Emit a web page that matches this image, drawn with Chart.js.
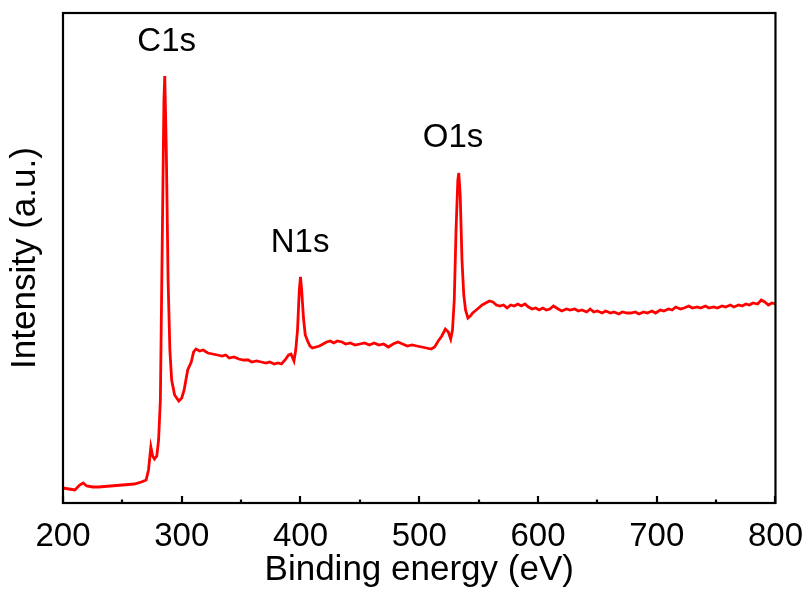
<!DOCTYPE html>
<html>
<head>
<meta charset="utf-8">
<script src="https://cdn.jsdelivr.net/npm/chart.js@4.4.1/dist/chart.umd.min.js"></script>
<style>
  html, body { margin: 0; padding: 0; background: #fff; }
  #wrap { width: 809px; height: 589px; }
</style>
</head>
<body>
<div id="wrap"><canvas id="xps"></canvas></div>
<script>
// XPS survey spectrum
const energy = [
  200, 205, 210, 214, 217, 220, 225, 230, 240, 250, 260, 266, 270, 272, 274, 275.5, 277, 279, 280.5, 282,
  283.5, 285, 285.7, 287, 288.5, 290, 291.5, 294, 297.5, 300, 302, 305, 308, 310, 312, 315, 318, 322, 326, 330,
  334, 337, 340, 344, 348, 352, 356, 359, 363, 367, 371, 374, 378, 381, 384, 387, 390, 392, 394.5, 396,
  397.5, 399, 400, 401, 402.5, 404, 406, 408, 410, 413, 416, 419, 422, 425, 428, 431, 435, 438, 442, 446,
  450, 454, 458, 462, 466, 470, 474, 478, 482, 486, 490, 494, 498, 502, 506, 510, 513, 516, 519, 522,
  524.5, 526.5, 528, 529.5, 531, 532.5, 533.3, 534.5, 536, 537.5, 539, 541, 543, 545, 547, 550, 553, 556, 559, 562,
  565, 568, 571, 574, 577, 580, 583, 586, 589, 592, 595, 598, 601, 604, 607, 610, 613, 617, 620, 624,
  627, 631, 634, 637, 641, 644, 647, 650, 654, 657, 661, 664, 668, 671, 675, 678, 682, 685, 689, 692,
  696, 699, 703, 706, 710, 713, 716, 720, 723, 727, 730, 734, 737, 741, 744, 748, 751, 755, 758, 762,
  765, 769, 772, 775, 778, 781, 785, 788, 791, 794, 797, 800
];
const intensity = [
  1.5, 1.4, 1.3, 1.8, 2.0, 1.7, 1.6, 1.6, 1.7, 1.8, 1.9, 2.1, 2.3, 3.3, 5.6, 4.7, 4.4, 4.7, 6.3, 10.3,
  25.3, 40.3, 42.7, 35.3, 22.3, 15.3, 12.3, 10.8, 10.2, 10.5, 11.3, 13.3, 14.1, 15.1, 15.4, 15.2, 15.3, 15.0, 14.9, 14.8,
  14.7, 14.8, 14.5, 14.6, 14.4, 14.3, 14.3, 14.1, 14.2, 14.1, 14.0, 14.1, 13.9, 14.0, 13.9, 14.3, 14.8, 14.9, 14.2, 15.3,
  17.3, 21.3, 22.6, 21.3, 18.5, 16.8, 16.2, 15.7, 15.5, 15.6, 15.7, 15.9, 16.1, 16.2, 16.0, 16.2, 16.1, 15.9, 16.0, 15.8,
  15.9, 16.0, 15.8, 16.0, 15.8, 15.9, 15.6, 15.9, 16.1, 15.9, 15.7, 15.8, 15.7, 15.6, 15.5, 15.4, 15.6, 16.2, 16.7, 17.4,
  17.1, 16.4, 17.3, 20.3, 27.3, 32.3, 33.0, 30.8, 24.3, 20.8, 19.3, 18.5, 18.7, 19.0, 19.2, 19.5, 19.8, 20.0, 20.2, 20.1,
  19.8, 19.7, 19.8, 19.5, 19.8, 19.7, 19.9, 19.7, 19.9, 19.6, 19.4, 19.5, 19.3, 19.5, 19.3, 19.4, 19.7, 19.4, 19.2, 19.4,
  19.3, 19.4, 19.2, 19.3, 19.1, 19.4, 19.1, 19.2, 19.0, 19.2, 19.0, 19.1, 18.9, 19.1, 19.0, 19.0, 19.1, 18.9, 19.1, 19.0,
  19.2, 19.0, 19.3, 19.2, 19.4, 19.3, 19.6, 19.4, 19.5, 19.7, 19.5, 19.6, 19.5, 19.7, 19.5, 19.6, 19.5, 19.7, 19.6, 19.8,
  19.6, 19.8, 19.7, 19.9, 19.8, 20.0, 19.9, 20.3, 20.1, 19.8, 20.0, 19.9
];
const xTicks = [200, 300, 400, 500, 600, 700, 800];
const peakNames = ['C1s', 'N1s', 'O1s'];
const peakEnergy = [285.7, 400, 533.3];

// where each peak name sits (data coordinates)
const labelSpots = [
  { x: 287.3, y: 46.1 },
  { x: 399.7, y: 26.0 },
  { x: 528.5, y: 36.5 }
];

const FONT = '"Liberation Sans", Arial, sans-serif';

// closed frame plus inward major/minor ticks on the bottom axis
const framePlugin = {
  id: 'frame',
  afterDraw(chart) {
    const { ctx, chartArea: a, scales: { x } } = chart;
    ctx.save();
    ctx.strokeStyle = '#000';
    ctx.lineWidth = 2.2;
    for (let v = 200; v <= 800; v += 50) {
      const px = Math.round(x.getPixelForValue(v));
      const len = v % 100 === 0 ? 7 : 3.5;
      ctx.beginPath();
      ctx.moveTo(px, a.bottom);
      ctx.lineTo(px, a.bottom - len);
      ctx.stroke();
    }
    ctx.strokeRect(a.left, a.top, a.right - a.left, a.bottom - a.top);
    ctx.restore();
  }
};

const peakLabelPlugin = {
  id: 'peakLabels',
  afterDatasetsDraw(chart) {
    const { ctx, scales: { x, y } } = chart;
    ctx.save();
    ctx.font = '33px ' + FONT;
    ctx.fillStyle = '#000';
    ctx.textAlign = 'center';
    ctx.textBaseline = 'middle';
    peakNames.forEach((name, i) => {
      ctx.fillText(name, x.getPixelForValue(labelSpots[i].x), y.getPixelForValue(labelSpots[i].y));
    });
    ctx.restore();
  }
};

const ctx = document.getElementById('xps').getContext('2d');
const xpsChart = new Chart(ctx, {
  type: 'line',
  data: {
    datasets: [{
      data: energy.map((e, i) => ({ x: e, y: intensity[i] })),
      borderColor: '#ff0000',
      borderWidth: 2.8,
      pointRadius: 0,
      tension: 0,
      fill: false
    }]
  },
  options: {
    responsive: true,
    maintainAspectRatio: false,
    animation: false,
    layout: { padding: { top: 13, right: 29, left: 0, bottom: 0 } },
    plugins: {
      legend: { display: false },
      tooltip: { enabled: false }
    },
    scales: {
      x: {
        type: 'linear',
        min: 200,
        max: 800,
        afterBuildTicks: (s) => { s.ticks = xTicks.map(v => ({ value: v })); },
        afterFit: (s) => { s.height = 86; },
        grid: { display: false },
        border: { display: false },
        ticks: {
          color: '#000',
          padding: 6,
          maxRotation: 0,
          font: { family: FONT, size: 33 }
        },
        title: {
          display: true,
          text: 'Binding energy (eV)',
          color: '#000',
          padding: { top: 0, bottom: 1 },
          font: { family: FONT, size: 35, lineHeight: 1 }
        }
      },
      y: {
        min: 0,
        max: 49,
        afterFit: (s) => { s.width = 63; },
        grid: { display: false },
        border: { display: false },
        ticks: { display: false },
        title: {
          display: true,
          text: 'Intensity (a.u.)',
          color: '#000',
          padding: { top: 8, bottom: 0 },
          font: { family: FONT, size: 35, lineHeight: 1 }
        }
      }
    }
  },
  plugins: [peakLabelPlugin, framePlugin]
});
</script>
</body>
</html>
